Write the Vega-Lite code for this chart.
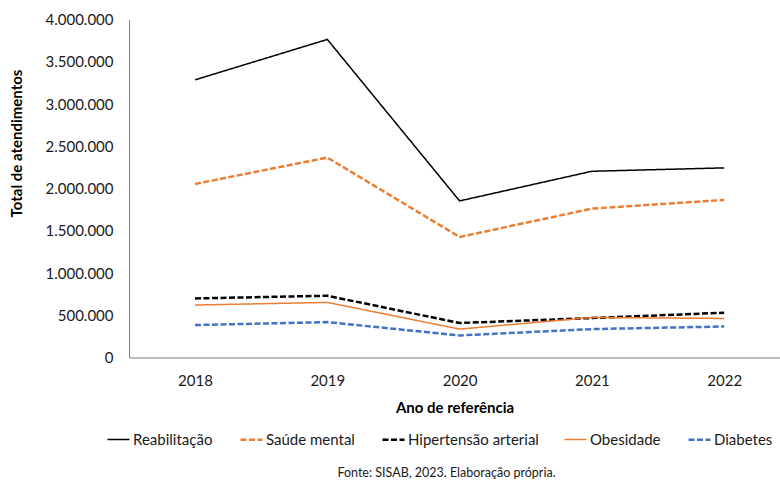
{
  "$schema": "https://vega.github.io/schema/vega-lite/v6.json",
  "width": 651,
  "height": 338,
  "autosize": {"type": "none"},
  "padding": {"left": 129, "top": 19.5, "right": 0, "bottom": 122.5},
  "background": "white",
  "config": {
    "font": "Lato",
    "view": {"stroke": null},
    "locale": {
      "number": {"decimal": ",", "thousands": ".", "grouping": [3], "currency": ["R$", ""]}
    }
  },
  "title": {
    "text": "Fonte: SISAB, 2023. Elaboração própria.",
    "orient": "bottom",
    "anchor": "middle",
    "fontSize": 12.5,
    "fontWeight": "normal",
    "color": "#1a1a1a",
    "offset": 19,
    "dx": -8
  },
  "data": {
    "values": [
      {"serie": "Reabilitação", "ano": "2018", "atendimentos": 3286000},
      {"serie": "Reabilitação", "ano": "2019", "atendimentos": 3764000},
      {"serie": "Reabilitação", "ano": "2020", "atendimentos": 1853000},
      {"serie": "Reabilitação", "ano": "2021", "atendimentos": 2204000},
      {"serie": "Reabilitação", "ano": "2022", "atendimentos": 2244000},
      {"serie": "Saúde mental", "ano": "2018", "atendimentos": 2054000},
      {"serie": "Saúde mental", "ano": "2019", "atendimentos": 2366000},
      {"serie": "Saúde mental", "ano": "2020", "atendimentos": 1426000},
      {"serie": "Saúde mental", "ano": "2021", "atendimentos": 1762000},
      {"serie": "Saúde mental", "ano": "2022", "atendimentos": 1865000},
      {"serie": "Hipertensão arterial", "ano": "2018", "atendimentos": 699000},
      {"serie": "Hipertensão arterial", "ano": "2019", "atendimentos": 731000},
      {"serie": "Hipertensão arterial", "ano": "2020", "atendimentos": 408000},
      {"serie": "Hipertensão arterial", "ano": "2021", "atendimentos": 467000},
      {"serie": "Hipertensão arterial", "ano": "2022", "atendimentos": 530000},
      {"serie": "Obesidade", "ano": "2018", "atendimentos": 621000},
      {"serie": "Obesidade", "ano": "2019", "atendimentos": 652000},
      {"serie": "Obesidade", "ano": "2020", "atendimentos": 336000},
      {"serie": "Obesidade", "ano": "2021", "atendimentos": 474000},
      {"serie": "Obesidade", "ano": "2022", "atendimentos": 462000},
      {"serie": "Diabetes", "ano": "2018", "atendimentos": 384000},
      {"serie": "Diabetes", "ano": "2019", "atendimentos": 419000},
      {"serie": "Diabetes", "ano": "2020", "atendimentos": 261000},
      {"serie": "Diabetes", "ano": "2021", "atendimentos": 336000},
      {"serie": "Diabetes", "ano": "2022", "atendimentos": 367000}
    ]
  },
  "mark": {"type": "line", "strokeCap": "butt"},
  "encoding": {
    "x": {
      "field": "ano",
      "type": "ordinal",
      "scale": {"type": "point", "padding": 0.4604, "align": 0.542},
      "axis": {
        "title": "Ano de referência",
        "titleFontSize": 15,
        "titleFontWeight": "bold",
        "titleColor": "#000000",
        "titleBaseline": "alphabetic",
        "titleY": 55.3,
        "labelAngle": 0,
        "labelFontSize": 15,
        "labelColor": "#1a1a1a",
        "labelPadding": 16,
        "ticks": false,
        "grid": false,
        "domainColor": "#7f7f7f",
        "domainWidth": 1
      }
    },
    "y": {
      "field": "atendimentos",
      "type": "quantitative",
      "scale": {"domain": [0, 4000000], "nice": false},
      "axis": {
        "title": "Total de atendimentos",
        "titleFontSize": 15,
        "titleFontWeight": "bold",
        "titleColor": "#000000",
        "titleAngle": -90,
        "titleAlign": "center",
        "titleBaseline": "alphabetic",
        "titleX": -108,
        "titleY": 123.5,
        "values": [0, 500000, 1000000, 1500000, 2000000, 2500000, 3000000, 3500000, 4000000],
        "format": ",d",
        "labelFontSize": 15,
        "labelColor": "#1a1a1a",
        "labelPadding": 16,
        "ticks": false,
        "grid": false,
        "domainColor": "#7f7f7f",
        "domainWidth": 1
      }
    },
    "color": {
      "field": "serie",
      "type": "nominal",
      "scale": {
        "domain": ["Reabilitação", "Saúde mental", "Hipertensão arterial", "Obesidade", "Diabetes"],
        "range": ["#000000", "#ED7D31", "#000000", "#ED7D31", "#4472C4"]
      },
      "legend": {
        "title": null,
        "orient": "none",
        "direction": "horizontal",
        "columns": 5,
        "legendX": -23,
        "legendY": 407.5,
        "padding": 0,
        "symbolType": "stroke",
        "symbolSize": 484,
        "labelFontSize": 15,
        "labelColor": "#1a1a1a",
        "labelOffset": 2,
        "labelLimit": 0,
        "columnPadding": 22
      }
    },
    "strokeDash": {
      "field": "serie",
      "type": "nominal",
      "scale": {
        "domain": ["Reabilitação", "Saúde mental", "Hipertensão arterial", "Obesidade", "Diabetes"],
        "range": [[1, 0], [6, 2.5], [6, 2.5], [1, 0], [6, 2.5]]
      }
    },
    "strokeWidth": {
      "field": "serie",
      "type": "nominal",
      "scale": {
        "type": "ordinal",
        "domain": ["Reabilitação", "Saúde mental", "Hipertensão arterial", "Obesidade", "Diabetes"],
        "range": [1.5, 2.5, 2.5, 1.5, 2.5]
      }
    }
  }
}
